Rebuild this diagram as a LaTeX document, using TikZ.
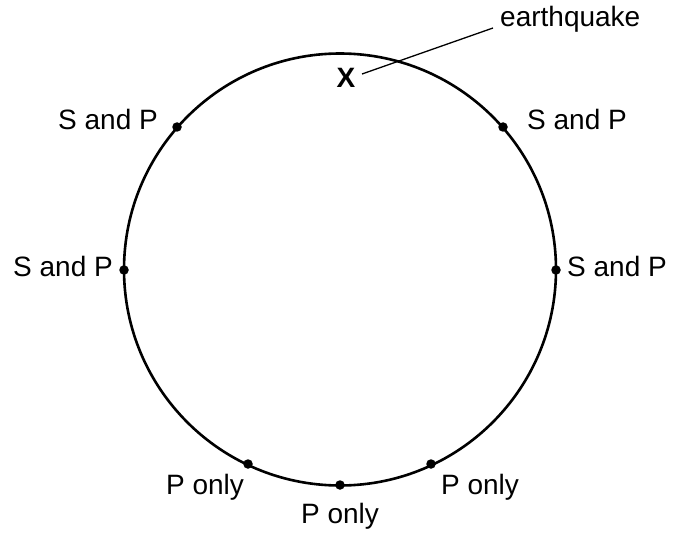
\documentclass[tikz,border=0pt]{standalone}
\usepackage{fontspec}
\setmainfont{Liberation Sans}
\begin{document}
\begin{tikzpicture}[x=1pt,y=-1pt,
  lbl/.style={anchor=base,inner sep=0pt,font=\fontsize{28}{32}\selectfont},
  station/.style={circle,fill=black,inner sep=0pt,minimum size=9.5pt},
  ring/.style={draw=black,line width=2.6pt},
  leader/.style={draw=black,line width=1.3pt}]
\useasboundingbox (0,0) rectangle (673,535);
\node[circle,minimum size=432pt,inner sep=0pt,ring] (earth) at (340,269.5) {};
% stations on the circle
\node[station] (s1) at (177,127) {};
\node[station] (s2) at (503,127) {};
\node[station] (s3) at (124,270) {};
\node[station] (s4) at (556,270) {};
\node[station] (s5) at (248,464) {};
\node[station] (s6) at (340,485) {};
\node[station] (s7) at (431,464) {};
% labels
\node[lbl] (l1) at (108,130) {S and P};
\node[lbl] (l2) at (577,130) {S and P};
\node[lbl] (l3) at (63,276) {S and P};
\node[lbl] (l4) at (617,276) {S and P};
\node[lbl] (l5) at (205,494) {P only};
\node[lbl] (l6) at (340,523) {P only};
\node[lbl] (l7) at (480,494) {P only};
% earthquake
\node[lbl,font=\fontsize{28}{32}\selectfont\bfseries] (xm) at (346,88) {X};
\node[lbl,anchor=base west] (eq) at (500,27) {earthquake};
\coordinate (lstart) at (362,74);
\coordinate (lend) at (493,28);
\draw[leader] (lstart) -- (lend);
\end{tikzpicture}
\end{document}
